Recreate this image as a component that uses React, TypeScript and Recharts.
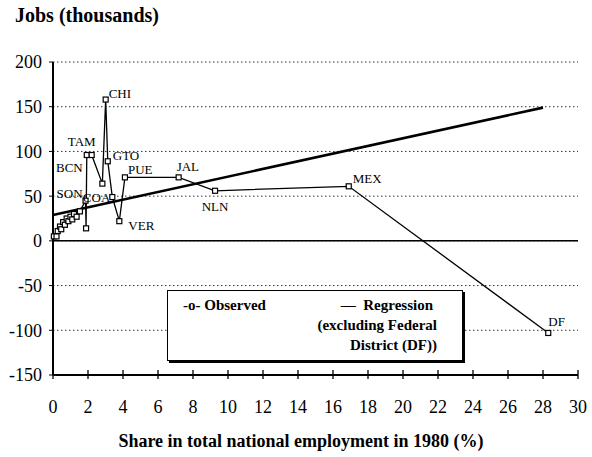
import {
  ComposedChart, Scatter, XAxis, YAxis, CartesianGrid, ReferenceLine,
} from "recharts";

// share in national employment 1980 (%) vs jobs created (thousands)
const shares = [
  0.05, 0.2, 0.27, 0.4, 0.47, 0.58, 0.68, 0.78, 0.88, 1.0, 1.1, 1.2, 1.35, 1.54,
  1.86, 1.89, 1.93, 2.21, 2.82, 3.01, 3.13, 3.39, 3.79, 4.11, 7.18, 9.26, 16.9, 28.3,
];
const jobs = [
  5, 5, 11, 16, 13, 21, 18, 25, 22, 27, 24, 30, 27, 33,
  45, 14, 96, 96, 64, 158, 89, 49, 22, 71, 71, 56, 61, -103,
];
const codes = [
  "", "", "", "", "", "", "", "", "", "", "", "", "", "",
  "SON", "", "BCN", "TAM", "", "CHI", "GTO", "COA", "VER", "PUE", "JAL", "NLN", "MEX", "DF",
];

// regression line, excluding DF
const regX = [0, 28];
const regY = [29, 149];

const xTicks = [0, 2, 4, 6, 8, 10, 12, 14, 16, 18, 20, 22, 24, 26, 28, 30];
const yTicks = [-150, -100, -50, 0, 50, 100, 150, 200];

const observed = shares.map((x, i) => ({ x, y: jobs[i], code: codes[i] }));
const regression = regX.map((x, i) => ({ x, y: regY[i] }));

const FONT = "'Liberation Serif', 'Times New Roman', serif";

const labelPos: Record<string, { dx: number; dy: number; anchor: "start" | "middle" | "end" }> = {
  CHI: { dx: 3, dy: -2, anchor: "start" },
  TAM: { dx: -10, dy: -9, anchor: "middle" },
  BCN: { dx: -4, dy: 17, anchor: "end" },
  SON: { dx: -3, dy: -3, anchor: "end" },
  COA: { dx: -2, dy: 5, anchor: "end" },
  GTO: { dx: 5, dy: -1, anchor: "start" },
  PUE: { dx: 3, dy: -3, anchor: "start" },
  JAL: { dx: -2, dy: -6, anchor: "start" },
  NLN: { dx: 0, dy: 20, anchor: "middle" },
  VER: { dx: 9, dy: 9, anchor: "start" },
  MEX: { dx: 4, dy: -3, anchor: "start" },
  DF: { dx: 0, dy: -7, anchor: "start" },
};

function SquareDot(props: any) {
  const { cx, cy, payload } = props;
  const p = payload && labelPos[payload.code];
  return (
    <g>
      <rect x={cx - 2.5} y={cy - 2.5} width={5} height={5} fill="#fff" stroke="#000" strokeWidth={1.2} />
      {p && (
        <text x={cx + p.dx} y={cy + p.dy} textAnchor={p.anchor} fontFamily={FONT} fontSize={13} fill="#000">
          {payload.code}
        </text>
      )}
    </g>
  );
}

function XTick(props: any) {
  const { x, y, payload } = props;
  return (
    <g>
      <line x1={x} x2={x} y1={y - 5} y2={y + 4} stroke="#000" strokeWidth={1.3} />
      <text x={x} y={y + 38} textAnchor="middle" fontFamily={FONT} fontSize={18} fill="#000">
        {payload.value}
      </text>
    </g>
  );
}

function LegendBox() {
  const txt = { fontFamily: FONT, fontSize: 15, fontWeight: 700, lineHeight: "20px", color: "#000" };
  return (
    <div
      style={{
        position: "absolute", left: 167, top: 290,
        boxSizing: "border-box", width: 296, height: 71, border: "1.5px solid #000",
        boxShadow: "2px 2px 0 #000", background: "#fff", padding: "4px 25px 0 15px", ...txt,
      }}
    >
      <div style={{ display: "flex", justifyContent: "space-between" }}>
        <span>-o- Observed</span>
        <span style={{ marginRight: 4 }}>— &nbsp;Regression</span>
      </div>
      <div style={{ textAlign: "right" }}>(excluding Federal</div>
      <div style={{ textAlign: "right" }}>District (DF))</div>
    </div>
  );
}

export default function App() {
  return (
    <div style={{ position: "absolute", left: 0, top: 0, width: 592, height: 457, background: "#fff" }}>
      <div style={{ position: "absolute", left: 15, top: 5, fontFamily: FONT, fontSize: 20, fontWeight: 700, lineHeight: "20px" }}>
        Jobs (thousands)
      </div>
      <ComposedChart width={592} height={457} margin={{ top: 62, right: 14, bottom: 32, left: 0 }}>
        <CartesianGrid vertical={false} stroke="#333" strokeDasharray="1.5 2.5" />
        <XAxis
          type="number" dataKey="x" domain={[0, 30]} ticks={xTicks} interval={0}
          height={50} tickSize={0} tickMargin={0} tickLine={false}
          axisLine={{ stroke: "#000", strokeWidth: 2 }} tick={<XTick />}
        />
        <YAxis
          type="number" dataKey="y" domain={[-150, 200]} ticks={yTicks} interval={0}
          width={53} tickSize={4} tickMargin={7}
          axisLine={{ stroke: "#000", strokeWidth: 2 }} tickLine={{ stroke: "#000" }}
          tick={{ fontFamily: FONT, fontSize: 18, fill: "#000" }}
        />
        <ReferenceLine y={0} stroke="#000" strokeWidth={1.5} />
        <Scatter
          data={regression} line={{ stroke: "#000", strokeWidth: 2.6 }}
          shape={() => <g />} isAnimationActive={false} legendType="none"
        />
        <Scatter
          data={observed} line={{ stroke: "#000", strokeWidth: 1.3 }}
          shape={<SquareDot />} isAnimationActive={false}
        />
      </ComposedChart>
      <LegendBox />
      <div style={{ position: "absolute", left: 0, width: 592, top: 432, textAlign: "center", fontFamily: FONT, fontSize: 18, fontWeight: 700, lineHeight: "18px", paddingLeft: 10, boxSizing: "border-box" }}>
        Share in total national employment in 1980 (%)
      </div>
    </div>
  );
}
